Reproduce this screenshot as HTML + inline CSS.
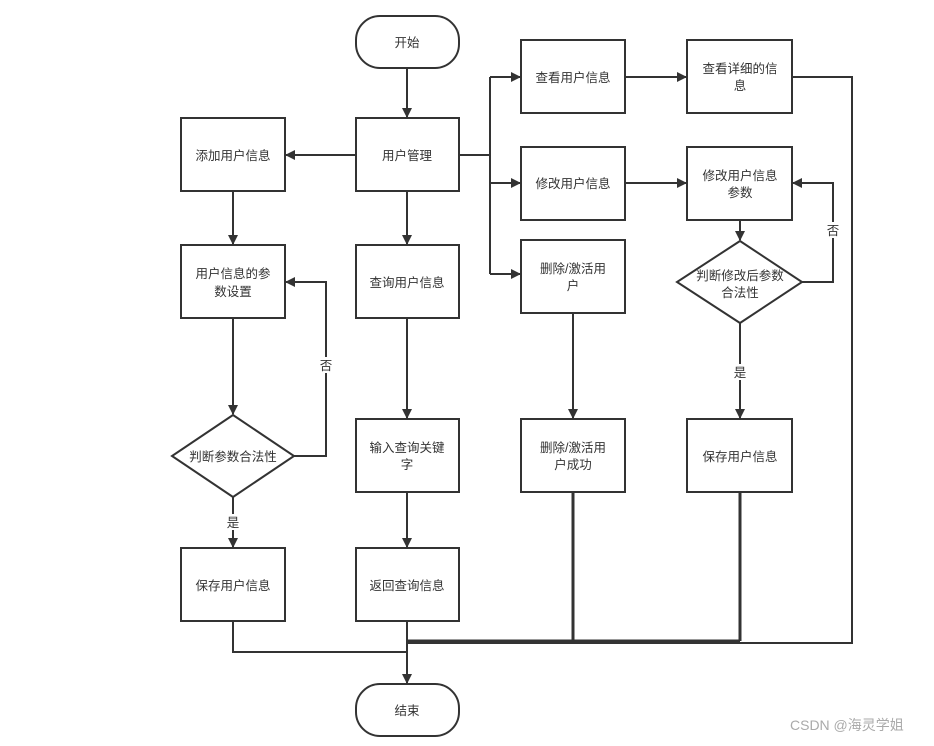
<!DOCTYPE html>
<html><head><meta charset="utf-8"><style>
html,body{margin:0;padding:0;background:#fff;}
svg text{font-family:"Liberation Sans","Noto Sans CJK SC",sans-serif;font-size:12.5px;fill:#333;}
</style></head><body>
<svg width="934" height="741" viewBox="0 0 934 741" xmlns="http://www.w3.org/2000/svg">
<defs><marker id="a" markerWidth="10" markerHeight="10" refX="9" refY="5" orient="auto" markerUnits="userSpaceOnUse"><path d="M0,0 L10,5 L0,10 z" fill="#333"/></marker></defs>
<g fill="#fff" stroke="#333" stroke-width="2">
<rect x="356" y="16" width="103" height="52" rx="24"/>
<rect x="356" y="118" width="103" height="73"/>
<rect x="181" y="118" width="104" height="73"/>
<rect x="181" y="245" width="104" height="73"/>
<polygon points="233,415 294,456 233,497 172,456"/>
<rect x="181" y="548" width="104" height="73"/>
<rect x="356" y="245" width="103" height="73"/>
<rect x="356" y="419" width="103" height="73"/>
<rect x="356" y="548" width="103" height="73"/>
<rect x="356" y="684" width="103" height="52" rx="24"/>
<rect x="521" y="40" width="104" height="73"/>
<rect x="521" y="147" width="104" height="73"/>
<rect x="521" y="240" width="104" height="73"/>
<rect x="521" y="419" width="104" height="73"/>
<rect x="687" y="40" width="105" height="73"/>
<rect x="687" y="147" width="105" height="73"/>
<polygon points="740,241 802,282 740,323 677,282"/>
<rect x="687" y="419" width="105" height="73"/>
</g>
<g fill="none" stroke="#333" stroke-width="2">
<path d="M407,68 V117" marker-end="url(#a)"/>
<path d="M356,155 H286" marker-end="url(#a)"/>
<path d="M407,191 V244" marker-end="url(#a)"/>
<path d="M233,191 V244" marker-end="url(#a)"/>
<path d="M233,318 V414" marker-end="url(#a)"/>
<path d="M294,456 H326 V282 H286" marker-end="url(#a)"/>
<path d="M233,497 V547" marker-end="url(#a)"/>
<path d="M407,318 V418" marker-end="url(#a)"/>
<path d="M407,492 V547" marker-end="url(#a)"/>
<path d="M459,155 H490"/>
<path d="M490,77 V274"/>
<path d="M490,77 H520" marker-end="url(#a)"/>
<path d="M490,183 H520" marker-end="url(#a)"/>
<path d="M490,274 H520" marker-end="url(#a)"/>
<path d="M625,77 H686" marker-end="url(#a)"/>
<path d="M625,183 H686" marker-end="url(#a)"/>
<path d="M573,313 V418" marker-end="url(#a)"/>
<path d="M740,220 V240" marker-end="url(#a)"/>
<path d="M802,282 H833 V183 H793" marker-end="url(#a)"/>
<path d="M740,323 V418" marker-end="url(#a)"/>
<path d="M792,77 H852 V643 H407"/>
<path d="M573,492 V641 M740,492 V641 M407,641 H740" stroke-width="3"/>
<path d="M233,621 V652 H407"/>
<path d="M407,621 V683" marker-end="url(#a)"/>
</g>
<g fill="#fff"><rect x="826" y="222" width="14" height="16"/><rect x="319" y="357" width="14" height="16"/><rect x="226" y="514" width="14" height="16"/><rect x="733" y="364" width="14" height="16"/></g>
<g text-anchor="middle">
<text x="407" y="47">开始</text>
<text x="407" y="160">用户管理</text>
<text x="233" y="160">添加用户信息</text>
<text x="233" y="278">用户信息的参</text><text x="233" y="296">数设置</text>
<text x="233" y="461">判断参数合法性</text>
<text x="233" y="590">保存用户信息</text>
<text x="407" y="287">查询用户信息</text>
<text x="407" y="452">输入查询关键</text><text x="407" y="469">字</text>
<text x="407" y="590">返回查询信息</text>
<text x="407" y="715">结束</text>
<text x="573" y="82">查看用户信息</text>
<text x="573" y="188">修改用户信息</text>
<text x="573" y="273">删除/激活用</text><text x="573" y="290">户</text>
<text x="573" y="452">删除/激活用</text><text x="573" y="469">户成功</text>
<text x="740" y="73">查看详细的信</text><text x="740" y="90">息</text>
<text x="740" y="180">修改用户信息</text><text x="740" y="197">参数</text>
<text x="740" y="280">判断修改后参数</text><text x="740" y="297">合法性</text>
<text x="740" y="461">保存用户信息</text>
<text x="833" y="235">否</text>
<text x="326" y="370">否</text>
<text x="233" y="527">是</text>
<text x="740" y="377">是</text>
</g>
<text x="790" y="730" style="fill:#aaa;font-size:14px">CSDN @海灵学姐</text>
</svg>
</body></html>
